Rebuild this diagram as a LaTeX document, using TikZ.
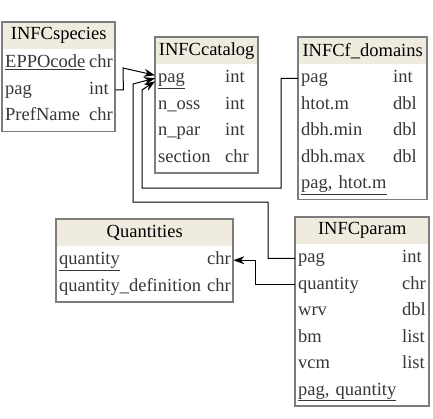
\documentclass[tikz,border=0pt]{standalone}
\usepackage{fontspec}
\setmainfont{Liberation Serif}
\usetikzlibrary{arrows.meta}
\definecolor{headfill}{RGB}{239,235,222}
\definecolor{framegray}{RGB}{125,125,125}
\definecolor{fieldtext}{RGB}{55,55,55}
\newcommand\tblfont{\fontsize{18.5pt}{20pt}\selectfont}
\def\fld#1#2#3{\makebox[#1][l]{#2}#3}
\tikzset{
  tblhead/.style={anchor=north west, fill=headfill, inner sep=0pt, minimum height=27pt, text=black, font=\tblfont},
  tblrow/.style={anchor=west, inner xsep=3pt, inner ysep=0pt, minimum height=26.5pt, align=left, text height=13pt, text depth=4.5pt, text=fieldtext, font=\tblfont},
  tblframe/.style={draw=framegray, line width=1.3pt},
  link/.style={line width=1pt, -{Stealth[length=11pt,width=8pt]}}
}

\begin{document}
\begin{tikzpicture}[x=1pt,y=-1pt]
			%%%%% START %%%%%
			\useasboundingbox (0,0) rectangle (433,418);
			
			% INFCspecies
			\node[tblhead, minimum width=113pt] (sp) at (2,22) {INFCspecies};
			\node[tblrow, text width=107pt] (sp-EPPOcode) at (2,63.25) {\fld{84pt}{\underline{EPPOcode}}{chr}};
			\node[tblrow, text width=107pt] (sp-pag) at (2,89.75) {\fld{84pt}{pag}{int}};
			\node[tblrow, text width=107pt] (sp-PrefName) at (2,116.25) {\fld{84pt}{PrefName}{chr}};
			\draw[tblframe] (2,22) rectangle (115,131.5);
			
			% INFCcatalog
			\node[tblhead, minimum width=103pt] (cat) at (155,37) {INFCcatalog};
			\node[tblrow, text width=97pt] (cat-pag) at (155,78.25) {\fld{67pt}{\underline{pag}}{int}};
			\node[tblrow, text width=97pt] (cat-n_oss) at (155,104.75) {\fld{67pt}{n\_oss}{int}};
			\node[tblrow, text width=97pt] (cat-n_par) at (155,131.25) {\fld{67pt}{n\_par}{int}};
			\node[tblrow, text width=97pt] (cat-section) at (155,157.75) {\fld{67pt}{section}{chr}};
			\draw[tblframe] (155,37) rectangle (258,173);
			
			% INFCf_domains
			\node[tblhead, minimum width=129pt] (fd) at (298,37) {INFCf\_domains};
			\node[tblrow, text width=123pt] (fd-pag) at (298,78.25) {\fld{92pt}{pag}{int}};
			\node[tblrow, text width=123pt] (fd-htot) at (298,104.75) {\fld{92pt}{htot.m}{dbl}};
			\node[tblrow, text width=123pt] (fd-dbhmin) at (298,131.25) {\fld{92pt}{dbh.min}{dbl}};
			\node[tblrow, text width=123pt] (fd-dbhmax) at (298,157.75) {\fld{92pt}{dbh.max}{dbl}};
			\node[tblrow, text width=123pt] (fd-key) at (298,184.25) {\underline{pag, htot.m}};
			\draw[tblframe] (298,37) rectangle (427,199.5);
			
			% Quantities
			\node[tblhead, minimum width=177pt] (qu) at (56,219) {Quantities};
			\node[tblrow, text width=171pt] (qu-quantity) at (56,260.25) {\fld{148pt}{\underline{quantity}}{chr}};
			\node[tblrow, text width=171pt] (qu-definition) at (56,286.75) {\fld{148pt}{quantity\_definition}{chr}};
			\draw[tblframe] (56,219) rectangle (233,302);
			
			% INFCparam
			\node[tblhead, minimum width=134pt] (pa) at (295,217) {INFCparam};
			\node[tblrow, text width=128pt] (pa-pag) at (295,258.25) {\fld{104pt}{pag}{int}};
			\node[tblrow, text width=128pt] (pa-quantity) at (295,284.75) {\fld{104pt}{quantity}{chr}};
			\node[tblrow, text width=128pt] (pa-wrv) at (295,311.25) {\fld{104pt}{wrv}{dbl}};
			\node[tblrow, text width=128pt] (pa-bm) at (295,337.75) {\fld{104pt}{bm}{list}};
			\node[tblrow, text width=128pt] (pa-vcm) at (295,364.25) {\fld{104pt}{vcm}{list}};
			\node[tblrow, text width=128pt] (pa-key) at (295,390.75) {\underline{pag, quantity}};
			\draw[tblframe] (295,217) rectangle (429,406);
			
			% references
			\draw[link] (sp-pag.east) -- ++(8,0) -- (123,68) -- ([yshift=3pt]cat-pag.west);
			\draw[link] (fd-pag.west) -- ++(-17,0) -- (281,188) -- (142,188) -- (142,90) -- ([yshift=-3pt]cat-pag.west);
			\draw[link] (pa-pag.west) -- ++(-27,0) -- (268,202) -- (133,202) -- (133,84) -- (cat-pag.west);
			\draw[link] (pa-quantity.west) -- ++(-40,0) |- (qu-quantity.east);
			
			%%%%% END %%%%%
\end{tikzpicture}
\end{document}
